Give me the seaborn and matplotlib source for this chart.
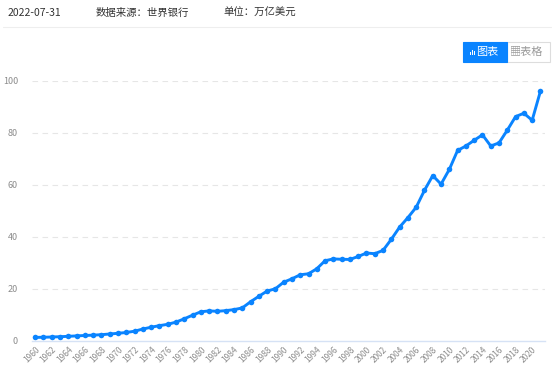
import numpy as np
import pandas as pd
import matplotlib
matplotlib.use('Agg')
import matplotlib.pyplot as plt
import seaborn as sns
from matplotlib.patches import FancyBboxPatch, Rectangle
from matplotlib.lines import Line2D

years = list(range(1960, 2022))
gdp = [1.38, 1.44, 1.54, 1.65, 1.80, 1.96, 2.12, 2.25, 2.43, 2.69,
       2.96, 3.27, 3.77, 4.60, 5.30, 5.90, 6.42, 7.26, 8.54, 9.93,
       11.23, 11.58, 11.42, 11.67, 12.07, 12.71, 15.08, 17.18, 19.21, 20.08,
       22.62, 23.92, 25.47, 25.85, 27.79, 30.87, 31.57, 31.43, 31.36, 32.52,
       33.83, 33.58, 34.86, 39.13, 43.81, 47.46, 51.45, 57.96, 63.61, 60.33,
       66.00, 73.30, 75.00, 77.20, 79.30, 75.00, 76.20, 81.10, 86.30, 87.60,
       84.90, 96.10]
yticks = [0, 20, 40, 60, 80, 100]
xticks = list(range(1960, 2021, 2))

df = pd.DataFrame({'year': years, 'gdp': gdp})

sns.set_theme(style='white')
plt.rcParams['font.family'] = ['Noto Sans CJK SC', 'DejaVu Sans']

W, H = 554, 375
fig = plt.figure(figsize=(W / 100, H / 100), dpi=100)
ax = fig.add_axes([32 / W, 34 / H, 513 / W, 260 / H])

blue = '#0a84ff'
sns.lineplot(data=df, x='year', y='gdp', ax=ax, color=blue, linewidth=2.1,
             marker='o', markersize=4, markeredgewidth=0)

ax.set_xlim(1959.62, 2021.55)
ax.set_ylim(0, 100)
ax.set_xticks(xticks)
ax.set_xticklabels([str(x) for x in xticks], rotation=45, ha='right',
                   rotation_mode='anchor', fontsize=6, color='#8c8c8c')
ax.set_yticks(yticks)
ax.set_yticklabels([str(y) for y in yticks], fontsize=6.5, color='#8c8c8c')
ax.tick_params(axis='both', length=0, pad=3)
ax.tick_params(axis='y', pad=10)
ax.set_xlabel('')
ax.set_ylabel('')
for y in yticks[1:]:
    ax.axhline(y, color='#e6e6e6', linewidth=0.8, linestyle=(0, (5, 4)), zorder=0)
for s in ['top', 'right', 'left']:
    ax.spines[s].set_visible(False)
ax.spines['bottom'].set_color('#d6e2f5')
ax.spines['bottom'].set_linewidth(1)

# header
hy = 1 - 13 / H
fig.text(8 / W, hy, '2022-07-31', fontsize=7.5, color='#333333', va='center')
fig.text(96 / W, hy, '数据来源：世界银行', fontsize=7.5, color='#333333', va='center')
fig.text(223 / W, hy, '单位：万亿美元', fontsize=7.5, color='#333333', va='center')
fig.add_artist(Line2D([3 / W, 551 / W], [1 - 27 / H, 1 - 27 / H],
                      color='#eeeeee', linewidth=0.8))

# buttons
fig.add_artist(Rectangle((507 / W, 1 - 62 / H), 43 / W, 20 / H,
                         facecolor='white', edgecolor='#dddddd', linewidth=0.8))
fig.add_artist(FancyBboxPatch((463 / W, 1 - 62 / H), 44 / W, 20 / H,
                              boxstyle='square,pad=0', facecolor=blue,
                              edgecolor=blue, linewidth=0.8))
for i, h in enumerate([3, 5, 4]):
    fig.add_artist(Rectangle(((470 + i * 2) / W, (H - 55) / H), 1.2 / W, h / H,
                             facecolor='white', edgecolor='none'))
fig.text(476 / W, 1 - 52 / H, '图表', fontsize=8, color='white', va='center')
fig.text(510 / W, 1 - 52 / H, '▦表格', fontsize=8, color='#999999', va='center')

fig.savefig('out.png', dpi=100)
